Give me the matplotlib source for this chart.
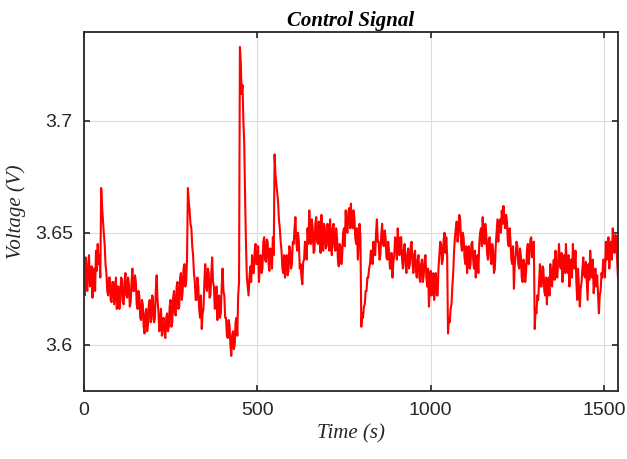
import numpy as np
import matplotlib
matplotlib.use("Agg")
import matplotlib.pyplot as plt

step = 2.5
voltage = [
    # 0 - 47.5 s
    3.630, 3.622, 3.639, 3.628, 3.624, 3.636, 3.640, 3.626, 3.627, 3.635,
    3.621, 3.630, 3.634, 3.624, 3.642, 3.633, 3.645, 3.636, 3.640, 3.630,
    # 50 - 97.5 s
    3.670, 3.662, 3.656, 3.650, 3.645, 3.636, 3.632, 3.624, 3.622, 3.630,
    3.630, 3.620, 3.619, 3.628, 3.628, 3.618, 3.624, 3.630, 3.616, 3.626,
    # 100
    3.626, 3.616, 3.620, 3.630, 3.629, 3.619, 3.618, 3.628, 3.632, 3.622,
    3.621, 3.630, 3.627, 3.617, 3.619, 3.628, 3.634, 3.624, 3.624, 3.631,
    # 150
    3.628, 3.618, 3.616, 3.624, 3.622, 3.612, 3.611, 3.620, 3.618, 3.608,
    3.605, 3.614, 3.616, 3.606, 3.609, 3.618, 3.620, 3.610, 3.611, 3.622,
    # 200
    3.618, 3.610, 3.612, 3.624, 3.631, 3.620, 3.615, 3.606, 3.610, 3.616,
    3.604, 3.610, 3.612, 3.605, 3.603, 3.612, 3.614, 3.606, 3.608, 3.617,
    # 250
    3.620, 3.608, 3.610, 3.621, 3.624, 3.614, 3.613, 3.626, 3.628, 3.616,
    3.617, 3.630, 3.632, 3.620, 3.624, 3.634, 3.636, 3.626, 3.628, 3.638,
    # 300
    3.670, 3.664, 3.660, 3.654, 3.652, 3.644, 3.640, 3.632, 3.628, 3.620,
    3.620, 3.630, 3.626, 3.616, 3.612, 3.622, 3.607, 3.614, 3.616, 3.628,
    # 350
    3.636, 3.626, 3.624, 3.634, 3.632, 3.621, 3.622, 3.632, 3.639, 3.628,
    3.626, 3.616, 3.618, 3.626, 3.611, 3.620, 3.622, 3.612, 3.614, 3.626,
    # 400
    3.634, 3.624, 3.622, 3.612, 3.612, 3.604, 3.603, 3.611, 3.609, 3.600,
    3.595, 3.604, 3.606, 3.598, 3.600, 3.610, 3.612, 3.604, 3.622, 3.628,
    # 450
    3.733, 3.726, 3.712, 3.716, 3.700, 3.690, 3.665, 3.645, 3.630, 3.626,
    3.622, 3.630, 3.635, 3.628, 3.640, 3.632, 3.632, 3.642, 3.645, 3.636,
    # 500
    3.636, 3.644, 3.628, 3.638, 3.640, 3.632, 3.634, 3.646, 3.648, 3.638,
    3.637, 3.647, 3.646, 3.636, 3.633, 3.643, 3.642, 3.634, 3.648, 3.640,
    # 550
    3.685, 3.676, 3.672, 3.668, 3.664, 3.656, 3.652, 3.646, 3.642, 3.634,
    3.632, 3.640, 3.630, 3.638, 3.640, 3.631, 3.633, 3.644, 3.642, 3.634,
    # 600
    3.636, 3.646, 3.645, 3.652, 3.657, 3.646, 3.642, 3.650, 3.646, 3.634,
    3.636, 3.630, 3.627, 3.637, 3.638, 3.646, 3.644, 3.638, 3.652, 3.645,
    # 650
    3.660, 3.650, 3.645, 3.656, 3.652, 3.641, 3.642, 3.654, 3.657, 3.646,
    3.645, 3.655, 3.650, 3.641, 3.658, 3.648, 3.642, 3.654, 3.652, 3.643,
    # 700
    3.644, 3.654, 3.650, 3.642, 3.656, 3.646, 3.640, 3.652, 3.654, 3.644,
    3.642, 3.652, 3.648, 3.638, 3.635, 3.645, 3.644, 3.636, 3.640, 3.650,
    # 750
    3.652, 3.644, 3.660, 3.652, 3.650, 3.659, 3.661, 3.652, 3.663, 3.655,
    3.652, 3.660, 3.657, 3.648, 3.645, 3.652, 3.638, 3.646, 3.654, 3.648,
    # 800
    3.608, 3.614, 3.612, 3.617, 3.618, 3.624, 3.624, 3.630, 3.630, 3.634,
    3.636, 3.642, 3.642, 3.636, 3.646, 3.640, 3.640, 3.650, 3.656, 3.646,
    # 850
    3.646, 3.638, 3.640, 3.649, 3.654, 3.645, 3.644, 3.651, 3.648, 3.639,
    3.638, 3.646, 3.642, 3.634, 3.634, 3.641, 3.630, 3.637, 3.640, 3.648,
    # 900
    3.646, 3.638, 3.652, 3.644, 3.640, 3.648, 3.648, 3.638, 3.634, 3.642,
    3.645, 3.636, 3.632, 3.640, 3.643, 3.634, 3.636, 3.644, 3.646, 3.637,
    # 950
    3.632, 3.640, 3.642, 3.633, 3.630, 3.638, 3.640, 3.630, 3.628, 3.636,
    3.638, 3.628, 3.631, 3.638, 3.640, 3.630, 3.626, 3.634, 3.617, 3.626,
    # 1000
    3.633, 3.622, 3.625, 3.632, 3.620, 3.628, 3.632, 3.622, 3.622, 3.634,
    3.640, 3.646, 3.645, 3.636, 3.638, 3.647, 3.650, 3.641, 3.648, 3.640,
    # 1050
    3.605, 3.612, 3.610, 3.616, 3.618, 3.626, 3.632, 3.642, 3.648, 3.652,
    3.655, 3.646, 3.650, 3.658, 3.656, 3.646, 3.642, 3.650, 3.648, 3.639,
    # 1100
    3.636, 3.644, 3.632, 3.640, 3.644, 3.634, 3.636, 3.645, 3.646, 3.638,
    3.634, 3.642, 3.630, 3.638, 3.640, 3.632, 3.645, 3.650, 3.652, 3.644,
    # 1150
    3.657, 3.648, 3.645, 3.654, 3.650, 3.641, 3.638, 3.647, 3.648, 3.639,
    3.636, 3.645, 3.642, 3.632, 3.634, 3.644, 3.650, 3.656, 3.646, 3.655,
    # 1200
    3.656, 3.650, 3.660, 3.654, 3.662, 3.656, 3.652, 3.658, 3.655, 3.646,
    3.644, 3.652, 3.647, 3.638, 3.636, 3.644, 3.625, 3.636, 3.640, 3.646,
    # 1250
    3.644, 3.636, 3.634, 3.643, 3.640, 3.630, 3.628, 3.638, 3.636, 3.628,
    3.632, 3.642, 3.645, 3.636, 3.640, 3.647, 3.648, 3.639, 3.640, 3.646,
    # 1300
    3.607, 3.616, 3.614, 3.622, 3.620, 3.628, 3.636, 3.626, 3.626, 3.635,
    3.634, 3.624, 3.622, 3.630, 3.618, 3.627, 3.630, 3.622, 3.636, 3.628,
    # 1350
    3.626, 3.634, 3.638, 3.629, 3.642, 3.634, 3.630, 3.638, 3.645, 3.636,
    3.634, 3.641, 3.628, 3.636, 3.640, 3.632, 3.645, 3.636, 3.632, 3.640,
    # 1400
    3.626, 3.634, 3.638, 3.630, 3.645, 3.637, 3.634, 3.642, 3.628, 3.620,
    3.634, 3.626, 3.617, 3.625, 3.628, 3.634, 3.639, 3.631, 3.630, 3.637,
    # 1450
    3.628, 3.620, 3.636, 3.629, 3.642, 3.634, 3.630, 3.638, 3.623, 3.630,
    3.634, 3.626, 3.631, 3.622, 3.614, 3.622, 3.624, 3.632, 3.630, 3.638,
    # 1500 - 1540
    3.638, 3.630, 3.646, 3.638, 3.640, 3.648, 3.634, 3.642, 3.646, 3.638,
    3.652, 3.644, 3.641, 3.649, 3.648, 3.638, 3.630,
]
time = np.arange(len(voltage)) * step

xticks = [0, 500, 1000, 1500]
yticks = [3.6, 3.65, 3.7]

fig = plt.figure(figsize=(6.27, 4.59), dpi=100)
ax = fig.add_axes([0.1337, 0.1481, 0.8519, 0.7822])

ax.plot(time, voltage, color="red", linewidth=1.5)

ax.set_xlim(0, 1540)
ax.set_ylim(3.5793, 3.7397)
ax.set_xticks(xticks)
ax.set_yticks(yticks)
ax.set_xticklabels([str(v) for v in xticks], family="Liberation Sans", fontsize=14)
ax.set_yticklabels(["3.6", "3.65", "3.7"], family="Liberation Sans", fontsize=14)
ax.grid(True, color="#dcdcdc", linewidth=0.8)
ax.set_axisbelow(True)
ax.tick_params(direction="in", top=True, right=True, length=4, width=1.2,
               color="#262626", labelcolor="#262626", pad=8)
for s in ax.spines.values():
    s.set_linewidth(1.3)
    s.set_color("#262626")

ax.set_title("Control Signal", family="Liberation Serif", style="italic",
             weight="bold", fontsize=15, pad=4)
ax.set_xlabel("Time (s)", family="Liberation Serif", style="italic",
              fontsize=15, color="#262626", labelpad=4)
ax.set_ylabel("Voltage (V)", family="Liberation Serif", style="italic",
              fontsize=15, color="#262626", labelpad=6)

fig.savefig("out.png", dpi=100)
